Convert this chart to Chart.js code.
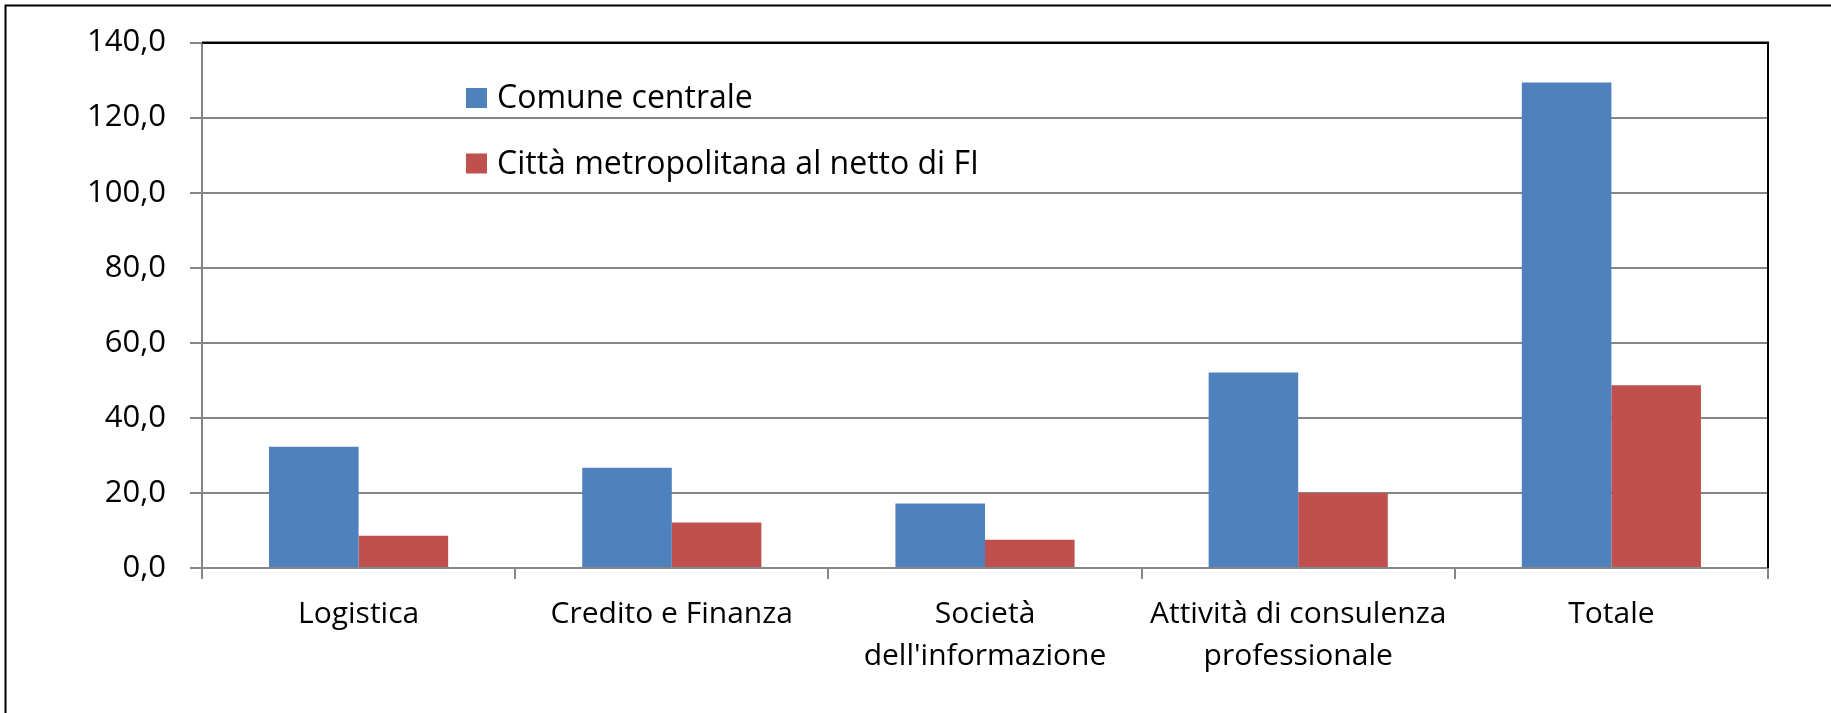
<!DOCTYPE html>
<html>
<head>
<meta charset="utf-8">
<script src="https://cdn.jsdelivr.net/npm/chart.js@4"></script>
<style>
  body { margin: 0; background: #fff; }
  canvas { display: block; }
</style>
</head>
<body>
<canvas id="chart-bar" width="1831" height="713"></canvas>
<script>
var categories = ["Logistica", ["Credito e Finanza"], ["Società", "dell'informazione"], ["Attività di consulenza", "professionale"], "Totale"];
var seriesNames = ["Comune centrale", "Città metropolitana al netto di FI"];
var comuneCentrale = [32.3, 26.7, 17.2, 52.1, 129.4];
var cittaMetro = [8.6, 12.1, 7.5, 20.0, 48.7];
var yTicks = [0, 20, 40, 60, 80, 100, 120, 140];

var fontFamily = "'Open Sans', 'Noto Sans', sans-serif";
var gridGray = '#868686';

// frame of the whole chart, black border of the plot, legend inside the plot
var excelLook = {
    id: 'excelLook',
    afterDraw: function(chart) {
        var c = chart.ctx;
        var a = chart.chartArea;
        c.save();
        c.strokeStyle = '#000';
        c.lineWidth = 2;
        c.beginPath();
        c.moveTo(5.5, 713);
        c.lineTo(5.5, 5.5);
        c.lineTo(1831, 5.5);
        c.stroke();
        c.beginPath();
        c.moveTo(a.left, a.top);
        c.lineTo(a.right, a.top);
        c.lineTo(a.right, a.bottom);
        c.stroke();

        c.font = "32px " + fontFamily;
        c.textBaseline = 'middle';
        chart.data.datasets.forEach(function(ds, i) {
            var y = 98 + i * 65.5;
            c.fillStyle = ds.backgroundColor;
            c.fillRect(466, y - 10, 21, 20);
            c.fillStyle = '#000';
            c.fillText(ds.label, 497, y + 1);
        });
        c.restore();
    }
};

var ctx = document.getElementById('chart-bar');
var chart = new Chart(ctx, {
    type: 'bar',
    data: {
        labels: categories,
        datasets: [{
            label: seriesNames[0],
            data: comuneCentrale,
            backgroundColor: '#4F81BD'
        }, {
            label: seriesNames[1],
            data: cittaMetro,
            backgroundColor: '#C0504D'
        }]
    },
    options: {
        responsive: false,
        animation: false,
        categoryPercentage: 0.572,
        barPercentage: 1,
        layout: {
            padding: { top: 42, right: 63, left: 0, bottom: 0 }
        },
        plugins: {
            legend: { display: false },
            tooltip: { enabled: false }
        },
        scales: {
            x: {
                afterFit: function(scale) { scale.height = 145; },
                grid: {
                    offset: true,
                    drawOnChartArea: false,
                    drawTicks: true,
                    tickLength: 11,
                    color: gridGray,
                    lineWidth: 2
                },
                border: { color: gridGray, width: 2 },
                ticks: {
                    color: '#000',
                    padding: 14,
                    maxRotation: 0,
                    autoSkip: false,
                    font: { family: fontFamily, size: 30, lineHeight: 1.4 }
                }
            },
            y: {
                min: 0,
                max: 140,
                afterFit: function(scale) { scale.width = 202; },
                afterBuildTicks: function(scale) {
                    scale.ticks = yTicks.map(function(v) { return { value: v }; });
                },
                grid: {
                    color: function(c) { return c.tick && c.tick.value === 140 ? '#000' : gridGray; },
                    tickColor: gridGray,
                    tickLength: 12,
                    lineWidth: 2
                },
                border: { color: gridGray, width: 2 },
                ticks: {
                    color: '#000',
                    padding: 24,
                    font: { family: fontFamily, size: 31 },
                    callback: function(v) { return v.toFixed(1).replace('.', ','); }
                }
            }
        }
    },
    plugins: [excelLook]
});
</script>
</body>
</html>
